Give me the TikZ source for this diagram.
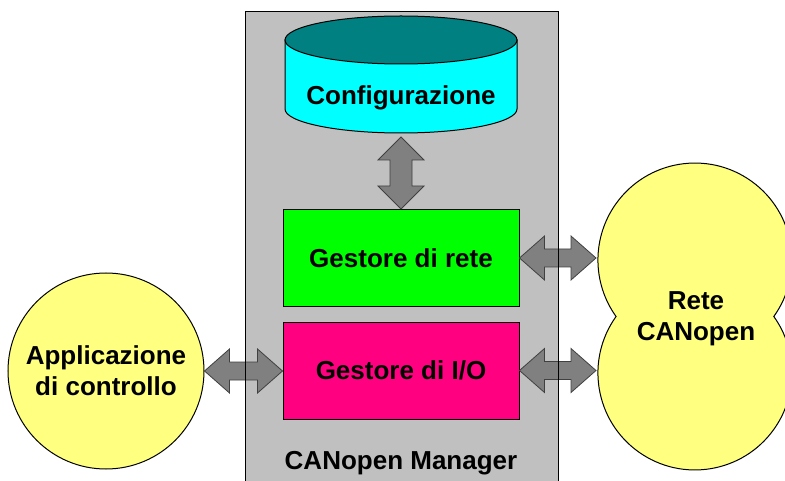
\documentclass[tikz,border=0pt]{standalone}
\usepackage{fontspec}
\setmainfont{Liberation Sans}
\usetikzlibrary{calc}

\definecolor{mgrgray}{HTML}{C0C0C0}
\definecolor{cfgtop}{HTML}{008080}
\definecolor{cfgbody}{HTML}{00FFFF}
\definecolor{netgreen}{HTML}{00FF00}
\definecolor{iopink}{HTML}{FF0080}
\definecolor{lightyel}{HTML}{FFFF80}
\definecolor{arrgray}{HTML}{808080}

\def\headlen{25pt}
\def\headhw{22pt}
\def\shafthw{9pt}

\tikzset{
  lbl/.style={font=\fontsize{26}{31}\selectfont\bfseries, align=center},
  block/.style={draw, line width=1pt, minimum width=236pt, minimum height=97pt, lbl},
  fatarrow/.style={draw=black!75, fill=arrgray, line width=0.8pt, line join=miter},
}

% horizontal double arrow, height taken from the first end
\newcommand{\hfat}[2]{%
  \draw[fatarrow] let \p1=#1, \p2=#2 in
    (\x1,\y1) -- (\x1+\headlen,\y1+\headhw) -- (\x1+\headlen,\y1+\shafthw)
    -- (\x2-\headlen,\y1+\shafthw) -- (\x2-\headlen,\y1+\headhw) -- (\x2,\y1)
    -- (\x2-\headlen,\y1-\headhw) -- (\x2-\headlen,\y1-\shafthw)
    -- (\x1+\headlen,\y1-\shafthw) -- (\x1+\headlen,\y1-\headhw) -- cycle;}

\begin{document}
\begin{tikzpicture}[x=1pt,y=1pt]
        \useasboundingbox (0,0) rectangle (785,480);
        % manager box (background)
        \fill[mgrgray] (245,-5) rectangle (558,468);
        % configuration cylinder
        \filldraw[fill=cfgbody, line width=1pt] (285,440) -- (285,371)
            arc[start angle=180, end angle=360, x radius=116, y radius=24] -- (517,440) -- cycle;
        \filldraw[fill=cfgtop, line width=1pt] (401,440) ellipse[x radius=116, y radius=24];
        \node[lbl] (config) at (401,382) {Configurazione};
        \coordinate (cfgbot) at (401,343);
        % network and I/O managers
        \node[block, fill=netgreen] (net) at (401,222) {Gestore di rete};
        \node[block, fill=iopink] (io) at (401,109.5) {Gestore di I/O};
        \node[lbl] (mgr) at (401,17) {CANopen Manager};
        % control application
        \node[circle, draw, fill=lightyel, line width=1pt, minimum size=196pt, lbl] (app) at (106,109) {Applicazione\\di controllo};
        % CANopen network: two overlapping circles
        \filldraw[fill=lightyel, line width=1pt] (773.8,163.5)
            arc[start angle=-35.6, end angle=215.6, radius=97]
            arc[start angle=144.4, end angle=395.6, radius=97] -- cycle;
        \node[lbl] (canet) at (696,161) {Rete\\CANopen};
        \coordinate (netin) at (596,222);
        \coordinate (ioin) at (596,109.5);
        % arrows
        \draw[fatarrow] let \p1=(cfgbot), \p2=(net.north) in
            (\x1,\y1) -- (\x1+23pt,\y1-23pt) -- (\x1+11pt,\y1-23pt) -- (\x1+11pt,\y2+23pt)
            -- (\x1+23pt,\y2+23pt) -- (\x1,\y2) -- (\x1-23pt,\y2+23pt) -- (\x1-11pt,\y2+23pt)
            -- (\x1-11pt,\y1-23pt) -- (\x1-23pt,\y1-23pt) -- cycle;
        \hfat{(app.east)}{(io.west)}
        \hfat{(net.east)}{(netin)}
        \hfat{(io.east)}{(ioin)}
        % manager box border, over the arrows
        \draw[line width=1pt] (245,-5) -- (245,468) -- (558,468) -- (558,-5);
\end{tikzpicture}
\end{document}
